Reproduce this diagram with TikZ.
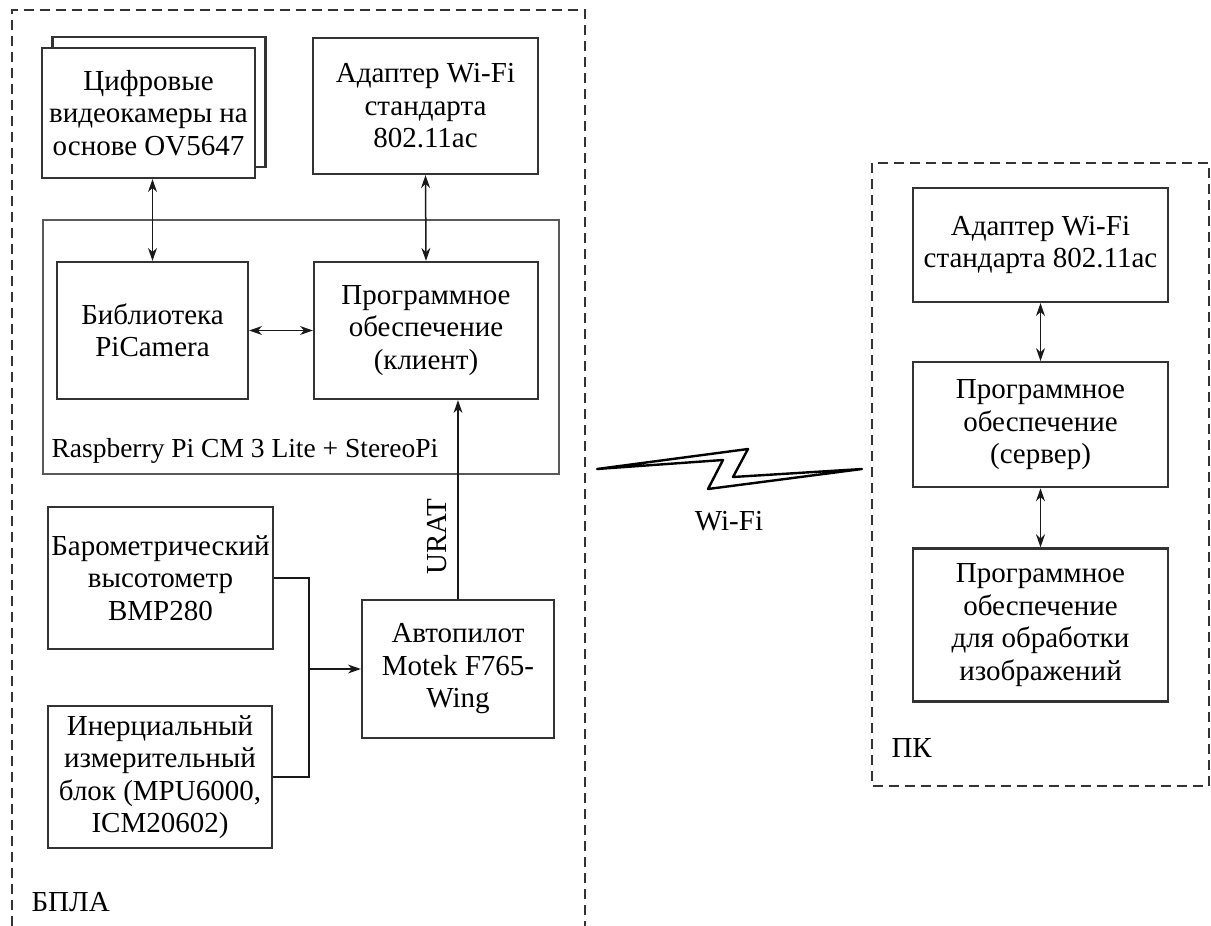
\documentclass[tikz,border=0pt]{standalone}
\usepackage{fontspec}
\setmainfont{Liberation Serif}
\usepackage{tikz}
\usetikzlibrary{positioning, arrows.meta}

\begin{document}
\begin{tikzpicture}[x=1pt, y=-1pt, font=\fontsize{29}{32.5}\selectfont,
    block/.style = {draw=black!80, line width=2.2pt, rectangle, inner sep=0pt, align=center, fill=white},
    board/.style = {draw=black!65, line width=1.6pt, rectangle, inner sep=0pt},
    area/.style = {draw=black!80, line width=2.2pt, dash pattern=on 10pt off 6pt},
    link/.style = {draw=black!90, line width=1.5pt},
    arr/.style = {link, -{Stealth[length=13pt, width=9pt]}},
    darr/.style = {link, {Stealth[length=13pt, width=9pt]}-{Stealth[length=13pt, width=9pt]}}]
    \useasboundingbox (0,0) rectangle (1211,926);

    % Areas
    \draw[area] (12,926) -- (12,10) -- (585,10) -- (585,926);
    \node[anchor=west] (uav) at (28,902) {БПЛА};
    \draw[area] (872,163) rectangle (1209,786);
    \node[anchor=west] (pc) at (888,748) {ПК};

    % Nodes (БПЛА)
    \node[board, minimum width=516pt, minimum height=254pt] (rpi) at (301,347) {};
    \node[anchor=west, font=\fontsize{27.5}{32}\selectfont] (rpilabel) at (48,451) {Raspberry Pi CM 3 Lite + StereoPi};
    \node[block, minimum width=213pt, minimum height=130pt] (camback) at (159,102) {};
    \node[block, minimum width=213pt, minimum height=130pt] (cam) at (148.5,113) {Цифровые\\видеокамеры на\\основе OV5647};
    \node[block, minimum width=225pt, minimum height=136pt] (wifi) at (425.5,106) {Адаптер Wi-Fi\\стандарта\\802.11ac};
    \node[block, minimum width=191pt, minimum height=137pt] (lib) at (152.5,330.5) {Библиотека\\PiCamera};
    \node[block, minimum width=224pt, minimum height=137pt] (client) at (426,330.5) {Программное\\обеспечение\\(клиент)};
    \node[block, minimum width=225pt, minimum height=142pt] (baro) at (160.5,578) {Барометрический\\высотометр\\BMP280};
    \node[block, minimum width=224pt, minimum height=142pt] (imu) at (160,777) {Инерциальный\\измерительный\\блок (MPU6000,\\ICM20602)};
    \node[block, minimum width=192pt, minimum height=138pt] (pilot) at (458,669) {Автопилот\\Motek F765-\\Wing};
    \coordinate (join) at (309,669);

    % Nodes (ПК)
    \node[block, minimum width=255pt, minimum height=114pt] (pcwifi) at (1040.5,245) {Адаптер Wi-Fi\\стандарта 802.11ac};
    \node[block, minimum width=255pt, minimum height=125pt] (server) [below=58pt of pcwifi] {Программное\\обеспечение\\(сервер)};
    \node[block, minimum width=255pt, minimum height=153pt] (proc) [below=59pt of server] {Программное\\обеспечение\\для обработки\\изображений};

    % Lines
    \draw[darr] (lib.north |- cam.south) -- (lib.north);
    \draw[darr] (wifi.south) -- (client.north);
    \draw[darr] (lib.east) -- (client.west);
    \draw[arr] (pilot.north) -- (pilot.north |- client.south);
    \node[rotate=90] (urat) at (437,537) {URAT};
    \draw[link] (baro.east) -| (join);
    \draw[link] (imu.east) -| (join);
    \draw[arr] (join) -- (pilot.west);
    \draw[darr] (pcwifi.south) -- (server.north);
    \draw[darr] (server.south) -- (proc.north);

    % Wi-Fi link
    \draw[line width=2.4pt, line join=round] (597,469) -- (748,449) -- (733,477) -- (862,469) -- (708,489) -- (723,460) -- cycle;
    \node (wifilabel) at (729,521) {Wi-Fi};
\end{tikzpicture}
\end{document}
